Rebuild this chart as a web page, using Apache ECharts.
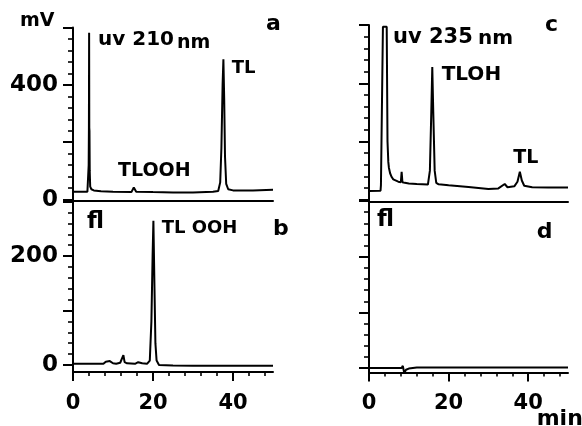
<!DOCTYPE html>
<html>
<head>
<meta charset="utf-8">
<script src="https://cdn.jsdelivr.net/npm/echarts@6/dist/echarts.min.js"></script>
<style>
  html, body { margin: 0; padding: 0; background: #fff; }
  #chart { width: 582px; height: 426px; }
</style>
</head>
<body>
<div id="chart"></div>
<script>
// Retention time (min) and detector signal for each trace.
// a: UV 210 nm (mV)
const timeA = [0, 3.6, 3.8, 3.92, 3.98, 4.03, 4.07, 4.12, 4.18, 4.3, 4.6, 5.2, 7, 10, 14.6, 15.2, 15.8, 20, 25, 30, 35, 36.3, 36.8, 37.1, 37.4, 37.6, 37.8, 38.0, 38.3, 38.8, 40, 45, 50];
const signalA = [27, 27, 28, 120, 250, 582, 250, 240, 100, 45, 36, 32, 29, 27, 26, 42, 27, 26, 25, 25, 27, 30, 60, 180, 400, 489, 350, 150, 55, 36, 32, 32, 34];

// b: fluorescence
const timeB = [0, 7.6, 8.2, 8.6, 9.2, 10, 10.8, 11.8, 12.3, 12.6, 12.9, 13.5, 15.5, 16.3, 16.8, 17.3, 18.5, 19.2, 19.6, 19.9, 20.1, 20.35, 20.6, 20.9, 21.5, 25, 30, 40, 50];
const signalB = [2, 2, 6, 9, 7, 3, 2, 4, 6, 18, 5, 3, 2, 5, 8, 3, 2, 8, 80, 200, 265, 150, 40, 8, 0, -1, -1.5, -1.5, -1.5];

// c: UV 235 nm (mV); the solvent front saturates the recorder at full scale
const timeC = [0, 2.9, 3.0, 3.3, 3.5, 4.45, 4.65, 4.85, 5.0, 5.3, 5.7, 6.1, 7.35, 8.0, 8.2, 8.4, 9, 10, 12, 14.8, 15.3, 15.65, 15.9, 16.15, 16.5, 16.9, 17.5, 20, 25, 30, 32.5, 34.1, 34.8, 36.5, 37.3, 37.9, 38.4, 39, 41, 45, 50];
const signalC = [30, 31, 50, 55, 594, 594, 200, 130, 110, 91, 78, 70, 62, 60, 96, 60, 58, 56, 54, 52, 100, 300, 456, 300, 100, 58, 53, 50, 44, 37, 39, 54, 43, 46, 62, 96, 66, 48, 43, 42, 42];

// d: fluorescence
const timeD = [0, 8.2, 8.5, 8.85, 9.3, 10, 12, 30, 50];
const signalD = [0, 0, 4, -9, -3, -1, 1, 1, 1];

// Tick values and labels
const uvMajorTicks = [0, 200, 400, 600];
const uvLabels = [0, 400];
const flMajorTicks = [0, 100, 200, 300];
const flLabels = [0, 200];
const timeMajorTicks = [0, 20, 40];
const timeLabels = [0, 20, 40];

const FONT = '"DejaVu Sans", "Liberation Sans", sans-serif';

function steps(from, to, step) {
  const out = [];
  for (let v = from; v <= to + 1e-9; v += step) out.push(v);
  return out;
}
function zip(ts, vs) { return ts.map((t, i) => [t, vs[i]]); }

const grids = [
  { left: 73, top: 27.5, width: 200, height: 173.5 },   // a
  { left: 73, top: 200, width: 200, height: 172 },      // b
  { left: 369, top: 25, width: 199, height: 176.5 },    // c
  { left: 369, top: 200, width: 199, height: 172.5 }    // d
];
const yRange = [
  { min: -5, max: 600 },
  { min: -13, max: 303 },
  { min: -6, max: 600 },
  { min: -8, max: 302 }
];

const xAxis = [];
const yAxis = [];
grids.forEach((g, i) => {
  const isUV = (i === 0 || i === 2);
  const isBottom = (i === 1 || i === 3);
  // minor x axis (carries the line)
  xAxis.push({
    type: 'value', gridIndex: i, min: 0, max: 50, position: 'bottom',
    axisLine: { show: true, onZero: false, lineStyle: { color: '#000', width: 2 } },
    axisTick: { show: isBottom, length: 4, customValues: steps(0, 48, 4), lineStyle: { color: '#000', width: 1.6 } },
    axisLabel: { show: false }, splitLine: { show: false }
  });
  // major x axis (long ticks and labels)
  xAxis.push({
    type: 'value', gridIndex: i, min: 0, max: 50, position: 'bottom',
    axisLine: { show: false, onZero: false },
    axisTick: { show: isBottom, length: 9, customValues: timeMajorTicks, lineStyle: { color: '#000', width: 2 } },
    axisLabel: { show: isBottom, customValues: timeLabels, margin: 21, color: '#000', fontFamily: FONT, fontWeight: 'bold', fontSize: 21 },
    splitLine: { show: false }
  });
  const r = yRange[i];
  yAxis.push({
    type: 'value', gridIndex: i, min: r.min, max: r.max, position: 'left',
    axisLine: { show: true, onZero: false, lineStyle: { color: '#000', width: 2 } },
    axisTick: { show: true, length: 5, customValues: isUV ? steps(0, 600, 40) : steps(0, 300, 20), lineStyle: { color: '#000', width: 1.6 } },
    axisLabel: { show: false }, splitLine: { show: false }
  });
  yAxis.push({
    type: 'value', gridIndex: i, min: r.min, max: r.max, position: 'left',
    axisLine: { show: false, onZero: false },
    axisTick: { show: true, length: 10, customValues: isUV ? uvMajorTicks : flMajorTicks, lineStyle: { color: '#000', width: 2 } },
    axisLabel: {
      show: i < 2, customValues: isUV ? uvLabels : flLabels, margin: 15,
      color: '#000', fontFamily: FONT, fontWeight: 'bold', fontSize: 23
    },
    splitLine: { show: false }
  });
});

const traces = [zip(timeA, signalA), zip(timeB, signalB), zip(timeC, signalC), zip(timeD, signalD)];
const series = traces.map((data, i) => ({
  type: 'line', xAxisIndex: i * 2, yAxisIndex: i * 2, data: data,
  showSymbol: false, clip: true, animation: false,
  lineStyle: { color: '#000', width: 2 }
}));

function txt(text, x, y, size) {
  return {
    type: 'text', silent: true,
    style: { text: text, x: x, y: y, fill: '#000', font: 'bold ' + size + 'px ' + FONT, textVerticalAlign: 'middle', verticalAlign: 'middle' }
  };
}

const graphic = [
  txt('mV', 20, 21.5, 19),
  txt('a', 266, 23.8, 22),
  txt('uv 210', 98, 39.5, 20),
  txt('nm', 177, 43.2, 19),
  txt('TL', 231.7, 68.5, 18),
  txt('TLOOH', 118, 171.5, 19),
  txt('fl', 87, 221.7, 23),
  txt('TL OOH', 161.7, 228.5, 18),
  txt('b', 273, 228.8, 22),
  txt('c', 545, 25.4, 22),
  txt('uv 235', 393, 37.5, 21),
  txt('nm', 478, 38.8, 20),
  txt('TLOH', 441.7, 74.5, 20),
  txt('TL', 513.3, 158.2, 19),
  txt('fl', 377, 220, 23),
  txt('d', 536.7, 232, 22),
  txt('min', 536.7, 419, 22)
];

const chart = echarts.init(document.getElementById('chart'), null, { renderer: 'canvas' });
chart.setOption({
  animation: false,
  backgroundColor: '#fff',
  grid: grids,
  xAxis: xAxis,
  yAxis: yAxis,
  series: series,
  graphic: graphic
});
</script>
</body>
</html>
